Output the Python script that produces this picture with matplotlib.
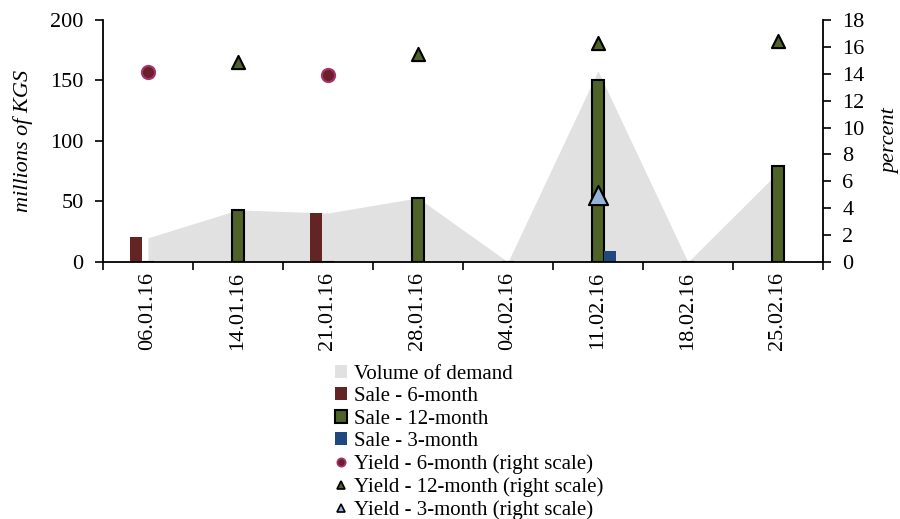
import matplotlib

matplotlib.use("Agg")
import matplotlib.pyplot as plt
import numpy as np
from matplotlib.lines import Line2D
from matplotlib.patches import Patch

dates = ["06.01.16", "14.01.16", "21.01.16", "28.01.16",
         "04.02.16", "11.02.16", "18.02.16", "25.02.16"]
demand = [20, 43, 40.5, 53, 0, 158, 0, 74]
sale_6m = [21, 0, 40.5, 0, 0, 0, 0, 0]
sale_12m = [0, 43, 0, 53, 0, 150, 0, 79]
sale_3m = [0, 0, 0, 0, 0, 9, 0, 0]
yield_6m = [14.1, None, 13.9, None, None, None, None, None]
yield_12m = [None, 14.9, None, 15.5, None, 16.3, None, 16.4]
yield_3m = [None, None, None, None, None, 5.0, None, None]

C_AREA = "#e1e1e1"
C_6M = "#632523"
C_12M = "#4f6228"
C_3M = "#1f497d"
C_3M_Y = "#95b3d7"

plt.rcParams["font.family"] = ["Liberation Serif", "DejaVu Serif"]
plt.rcParams["font.size"] = 16

fig = plt.figure(figsize=(9, 5.19), dpi=100)
ax = fig.add_axes([0.1144, 0.4952, 0.8, 0.4663])
ax2 = ax.twinx()

x = np.arange(len(dates))
w = 0.135

ax.fill_between(x, demand, 0, color=C_AREA, linewidth=0, zorder=1)
ax.bar(x - w, sale_6m, w, color=C_6M, zorder=2)
ax.bar(x, sale_12m, w, color=C_12M, edgecolor="black", linewidth=1.5, zorder=2)
ax.bar(x + w, sale_3m, w, color=C_3M, zorder=2)


def pts(vals):
    xs = [i for i, v in enumerate(vals) if v is not None]
    return xs, [vals[i] for i in xs]


ax2.scatter(*pts(yield_6m), s=90, marker="o", color="#6b1f2e",
            edgecolors="#a8336b", linewidths=1.5, zorder=3)
ax2.scatter(*pts(yield_12m), s=90, marker="^", color=C_12M,
            edgecolors="black", linewidths=1.5, zorder=3)
ax2.scatter(*pts(yield_3m), s=190, marker="^", color=C_3M_Y,
            edgecolors="black", linewidths=1.5, zorder=3)

ax.set_xlim(-0.5, len(dates) - 0.5)
ax.set_ylim(0, 200)
ax.set_yticks([0, 50, 100, 150, 200])
ax2.set_ylim(0, 18)
ax2.set_yticks(range(0, 19, 2))

ax.set_xticks(np.arange(-0.5, len(dates), 1))
ax.set_xticklabels([])
ax.set_xticks(x, minor=True)
ax.set_xticklabels(dates, minor=True, rotation=90)
ax.tick_params(axis="x", which="minor", length=0, pad=7)
ax.tick_params(axis="x", which="major", length=6, width=1.2, direction="out")
ax.tick_params(axis="y", length=6, width=1.2, direction="out", pad=8)
ax2.tick_params(axis="y", length=6, width=1.2, direction="out", pad=8)

for a in (ax, ax2):
    a.spines["top"].set_visible(False)
    for s in a.spines.values():
        s.set_linewidth(1.3)
ax.spines["right"].set_visible(False)
ax2.spines["left"].set_visible(False)
ax2.spines["bottom"].set_visible(False)

ax.set_ylabel("millions of KGS", style="italic", labelpad=12)
ax2.set_ylabel("percent", style="italic", labelpad=12)

handles = [
    Patch(facecolor=C_AREA, edgecolor="none"),
    Patch(facecolor=C_6M, edgecolor="none"),
    Patch(facecolor=C_12M, edgecolor="black", linewidth=1.5),
    Patch(facecolor=C_3M, edgecolor="none"),
    Line2D([], [], linestyle="none", marker="o", markersize=6,
           markerfacecolor="#6b1f2e", markeredgecolor="#a8336b", markeredgewidth=1.2),
    Line2D([], [], linestyle="none", marker="^", markersize=6,
           markerfacecolor=C_12M, markeredgecolor="black", markeredgewidth=1.2),
    Line2D([], [], linestyle="none", marker="^", markersize=6,
           markerfacecolor=C_3M_Y, markeredgecolor="black", markeredgewidth=1.2),
]
labels = ["Volume of demand", "Sale - 6-month", "Sale - 12-month", "Sale - 3-month",
          "Yield - 6-month (right scale)", "Yield - 12-month (right scale)",
          "Yield - 3-month (right scale)"]
fig.legend(handles, labels, loc="upper left", bbox_to_anchor=(0.372, 0.297),
           frameon=False, fontsize=15, handlelength=0.6, handleheight=0.6,
           handletextpad=0.3, labelspacing=0.16, borderpad=0, borderaxespad=0)

fig.savefig("out.png", dpi=100)
